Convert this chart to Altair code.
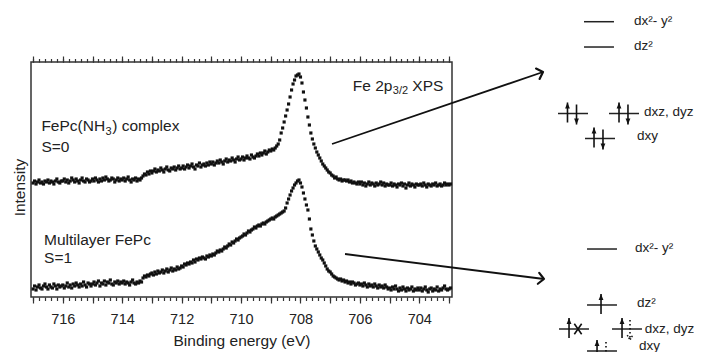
import math
import altair as alt
import pandas as pd

# ---------------- data ----------------
E_START = 717.0
E_STEP = 0.05

# FePc(NH3) complex, S=0 (upper trace), one value every 0.05 eV from 717.00 eV down
UPPER = [
    114, 116, 113, 115, 117, 114, 115, 113, 116, 115, 117, 114, 116, 115, 113, 116, 118, 115, 114, 116,
    116, 118, 115, 117, 114, 116, 119, 117, 115, 118, 116, 114, 117, 119, 116, 115, 118, 117, 115, 116,
    118, 116, 119, 117, 115, 118, 116, 119, 117, 120, 118, 116, 117, 119, 118, 115, 117, 119, 116, 118,
    117, 119, 116, 118, 120, 117, 115, 118, 117, 119, 116, 118, 117, 119, 121, 123, 122, 125, 123, 126,
    124, 126, 128, 125, 127, 126, 129, 127, 125, 128, 130, 127, 126, 129, 128, 130, 127, 129, 131, 128,
    129, 131, 128, 130, 132, 129, 131, 133, 130, 128, 132, 131, 134, 130, 132, 133, 131, 134, 132, 135,
    133, 135, 132, 134, 136, 134, 137, 135, 133, 136, 138, 135, 137, 136, 139, 137, 135, 138, 140, 137,
    138, 140, 137, 139, 141, 139, 138, 142, 140, 139, 141, 143, 141, 144, 142, 144, 146, 143, 145, 147,
    146, 148, 147, 149, 151, 153, 157, 164, 169, 175, 181, 187, 193, 200, 207, 213, 217, 221, 222, 223,
    220, 214, 205, 197, 189, 180, 172, 164, 158, 153, 149, 145, 142, 139, 136, 133, 131, 129, 127, 125,
    124, 122, 121, 119, 120, 118, 117, 118, 116, 117, 117, 116, 117, 115, 116, 114, 115, 114, 113, 115,
    113, 115, 112, 114, 111, 113, 115, 112, 114, 113, 111, 114, 112, 113, 115, 112, 114, 111, 113, 112,
    112, 114, 111, 113, 112, 110, 113, 112, 114, 111, 113, 109, 112, 114, 111, 113, 112, 110, 113, 112,
    112, 113, 111, 114, 112, 110, 113, 112, 111, 113, 112, 114, 111, 112, 113, 111, 112, 114, 112, 113,
    112, 113,
]

# Multilayer FePc, S=1 (lower trace)
LOWER = [
    8, 11, 7, 10, 12, 9, 8, 11, 13, 10, 8, 12, 10, 9, 13, 11, 8, 12, 10, 11,
    12, 9, 11, 14, 10, 12, 9, 13, 11, 14, 12, 10, 13, 11, 15, 12, 10, 14, 13, 11,
    13, 15, 12, 14, 16, 11, 14, 13, 16, 12, 15, 14, 17, 13, 12, 15, 14, 16, 13, 15,
    14, 16, 13, 15, 14, 12, 15, 17, 14, 13, 15, 14, 16, 15, 19, 21, 20, 22, 21, 23,
    24, 22, 25, 23, 26, 24, 25, 27, 24, 26, 28, 25, 27, 29, 26, 28, 27, 30, 28, 29,
    31, 30, 33, 32, 34, 33, 35, 34, 37, 35, 38, 37, 39, 38, 40, 39, 38, 41, 40, 42,
    41, 43, 42, 44, 46, 45, 47, 46, 48, 50, 49, 51, 53, 52, 55, 54, 56, 58, 57, 59,
    60, 61, 63, 62, 64, 66, 65, 67, 68, 70, 69, 71, 72, 71, 73, 74, 73, 75, 76, 77,
    78, 79, 78, 80, 81, 82, 83, 84, 85, 86, 89, 94, 98, 102, 106, 109, 112, 114, 116, 117,
    114, 110, 104, 98, 92, 87, 78, 68, 62, 56, 51, 48, 45, 42, 39, 37, 34, 31, 28, 26,
    25, 23, 21, 20, 19, 18, 17, 18, 16, 17, 15, 16, 14, 15, 13, 15, 14, 12, 13, 14,
    12, 13, 11, 14, 12, 10, 13, 11, 12, 10, 13, 11, 9, 12, 10, 11, 9, 12, 10, 8,
    9, 7, 10, 8, 11, 8, 6, 9, 7, 10, 8, 6, 9, 7, 8, 10, 6, 8, 7, 9,
    7, 9, 6, 8, 10, 7, 5, 8, 9, 6, 8, 7, 10, 6, 8, 7, 9, 11, 8, 7,
    8, 9,
]

ENERGY = [round(E_START - E_STEP * i, 2) for i in range(len(UPPER))]

X_DOMAIN = [717.07, 702.9]
Y_DOMAIN = [0, 235]
MAJOR_TICKS = list(range(703, 718))
MINOR_TICKS = [round(703 + 0.2 * i, 1) for i in range(71)]

# annotation texts inside the plot (anchor in eV / intensity units)
NOTE_FEPC = ("FePc(NH", "3", ") complex", 716.72, 165.7)
NOTE_S0 = ("S=0", 716.72, 144.7)
NOTE_XPS = ("Fe 2p", "3/2", "XPS", 706.24, 206.5)
NOTE_ML = ("Multilayer FePc", 716.63, 52.2)
NOTE_S1 = ("S=1", 716.63, 34.2)

# overlay (figure-fraction coordinates: x 0..1 left->right, y 0..1 bottom->top)
POINTER_X1 = [0.4743, 0.4929]
POINTER_Y1 = [0.6000, 0.2944]
POINTER_X2 = [0.7757, 0.7771]
POINTER_Y2 = [0.8000, 0.2250]

LEVEL_X1 = [0.8343, 0.8343, 0.7971, 0.8700, 0.8357, 0.8386, 0.8386, 0.7986, 0.8743, 0.8386]
LEVEL_X2 = [0.8771, 0.8771, 0.8400, 0.9129, 0.8786, 0.8814, 0.8814, 0.8414, 0.9171, 0.8814]
LEVEL_Y = [0.9397, 0.8694, 0.6847, 0.6847, 0.6153, 0.3083, 0.1528, 0.0861, 0.0861, 0.0250]

LABEL_TEXT = ["dx²- y²", "dz²", "dxz, dyz", "dxy", "dx²- y²", "dz²", "dxz, dyz", "dxy"]
LABEL_X = [0.9057, 0.9057, 0.9200, 0.9100, 0.9071, 0.9100, 0.9210, 0.9129]
LABEL_Y = [0.9417, 0.8722, 0.6889, 0.6222, 0.3111, 0.1583, 0.0861, 0.0389]

SPIN_X = [0.8107, 0.8236, 0.8843, 0.8971, 0.8486, 0.8614, 0.8586, 0.8129, 0.8886, 0.9000, 0.8529, 0.8657]
SPIN_LEVEL = [0.6847, 0.6847, 0.6847, 0.6847, 0.6153, 0.6153, 0.1528, 0.0861, 0.0861, 0.0861, 0.0250, 0.0250]
SPIN_DIR = ["up", "down", "up", "down", "up", "down", "up", "up", "up", "down", "up", "down"]
SPIN_KIND = ["full", "full", "full", "full", "full", "full", "full", "full", "full", "partial", "full", "partial"]

CROSS_X = [0.8257]
CROSS_Y = [0.0861]

# ---------------- layout / style ----------------
FONT = "Liberation Sans"
INK = "#111111"
TXT = "#222222"
FIG_W, FIG_H = 700, 360
VIEW_LEFT, VIEW_TOP = 31, 62
PLOT_W, PLOT_H = 421, 235
SVG_W, SVG_H = 686, 344
PAD = {"left": VIEW_LEFT - 8, "top": VIEW_TOP - 8,
       "right": SVG_W - (VIEW_LEFT - 8) - PLOT_W, "bottom": SVG_H - (VIEW_TOP - 8) - PLOT_H}
TIP_PX, TAIL_PX = 11, 9

xs = alt.Scale(domain=X_DOMAIN, nice=False, zero=False)
ys = alt.Scale(domain=Y_DOMAIN, nice=False, zero=False)
fxs = alt.Scale(domain=[0, 1], range=[-VIEW_LEFT, FIG_W - VIEW_LEFT], nice=False, zero=False)
fys = alt.Scale(domain=[0, 1], range=[FIG_H - VIEW_TOP, -VIEW_TOP], nice=False, zero=False)

axis_common = dict(domain=False, grid=False, tickColor="#333333", tickWidth=1.2,
                   labelFont=FONT, labelFontSize=14.5, labelColor=TXT,
                   titleFont=FONT, titleFontSize=15.5, titleColor=TXT, titleFontWeight="normal")

spec_df = pd.DataFrame({"E": ENERGY, "upper": UPPER, "lower": LOWER})

upper_layer = alt.Chart(spec_df).mark_square(size=10, color=INK, opacity=1).encode(
    x=alt.X("E:Q", scale=xs, axis=alt.Axis(
        values=MAJOR_TICKS, format="d",
        labelExpr="datum.value % 2 === 0 ? datum.label : ''",
        tickSize=6, labelPadding=9, title="Binding energy (eV)", titlePadding=8,
        orient="bottom", **axis_common)),
    y=alt.Y("upper:Q", scale=ys, axis=alt.Axis(
        title="Intensity", ticks=False, labels=False, titlePadding=4, titleY=125, **axis_common)),
)

lower_layer = alt.Chart(spec_df).mark_square(size=10, color=INK, opacity=1).encode(
    x=alt.X("E:Q", scale=xs, axis=alt.Axis(
        values=MINOR_TICKS, tickSize=3.5, labels=False, title=None, orient="bottom", **axis_common)),
    y=alt.Y("lower:Q", scale=ys, axis=None),
)


def note(text, e, i, size=15.5, dx=0, dy=0, x_axis=None):
    df = pd.DataFrame({"t": [text], "E": [e], "I": [i]})
    return alt.Chart(df).mark_text(
        align="left", baseline="alphabetic", font=FONT, fontSize=size, dx=dx, dy=dy, color=TXT
    ).encode(
        x=alt.X("E:Q", scale=xs, axis=x_axis),
        y=alt.Y("I:Q", scale=ys, axis=None),
        text="t:N",
    )


top_major = alt.Axis(values=MAJOR_TICKS, tickSize=6, labels=False, title=None, orient="top", **axis_common)
top_minor = alt.Axis(values=MINOR_TICKS, tickSize=3.5, labels=False, title=None, orient="top", **axis_common)

notes = [
    note(NOTE_FEPC[0], NOTE_FEPC[3], NOTE_FEPC[4]),
    note(NOTE_FEPC[1], NOTE_FEPC[3], NOTE_FEPC[4], size=11, dx=64.2, dy=3.5),
    note(NOTE_FEPC[2], NOTE_FEPC[3], NOTE_FEPC[4], dx=70.8),
    note(NOTE_S0[0], NOTE_S0[1], NOTE_S0[2], x_axis=top_major),
    note(NOTE_XPS[0], NOTE_XPS[3], NOTE_XPS[4]),
    note(NOTE_XPS[1], NOTE_XPS[3], NOTE_XPS[4], size=11, dx=40.0, dy=3.5),
    note(NOTE_XPS[2], NOTE_XPS[3], NOTE_XPS[4], dx=59.6),
    note(NOTE_ML[0], NOTE_ML[1], NOTE_ML[2]),
    note(NOTE_S1[0], NOTE_S1[1], NOTE_S1[2], x_axis=top_minor),
]

spectrum = alt.layer(upper_layer, lower_layer, *notes).resolve_axis(x="independent", y="independent")

# ---------- overlay: pointer arrows and d-level diagrams ----------
ptr_df = pd.DataFrame({"x1": POINTER_X1, "y1": POINTER_Y1, "x2": POINTER_X2, "y2": POINTER_Y2})
ptr_df["ang"] = [
    math.degrees(math.atan2(-(b2 - b1) * FIG_H, (a2 - a1) * FIG_W)) % 360
    for a1, b1, a2, b2 in zip(POINTER_X1, POINTER_Y1, POINTER_X2, POINTER_Y2)
]

pointer_rules = alt.Chart(ptr_df).mark_rule(color=INK, strokeWidth=1.8).encode(
    x=alt.X("x1:Q", scale=fxs, axis=None), y=alt.Y("y1:Q", scale=fys, axis=None),
    x2="x2:Q", y2="y2:Q")
pointer_heads = alt.Chart(ptr_df).mark_point(
    shape="M-1,-1L0,0L-1,1", filled=False, size=120, strokeWidth=2.2, color=INK,
    opacity=1, strokeCap="round", strokeJoin="round").encode(
    x=alt.X("x2:Q", scale=fxs, axis=None), y=alt.Y("y2:Q", scale=fys, axis=None),
    angle=alt.Angle("ang:Q", scale=None))

lev_df = pd.DataFrame({"x1": LEVEL_X1, "x2": LEVEL_X2, "y": LEVEL_Y})
levels = alt.Chart(lev_df).mark_rule(color=TXT, strokeWidth=1.5).encode(
    x=alt.X("x1:Q", scale=fxs, axis=None), x2="x2:Q", y=alt.Y("y:Q", scale=fys, axis=None))

lab_df = pd.DataFrame({"t": LABEL_TEXT, "x": LABEL_X, "y": LABEL_Y})
labels = alt.Chart(lab_df).mark_text(
    align="left", baseline="middle", font=FONT, fontSize=13.5, color=TXT).encode(
    x=alt.X("x:Q", scale=fxs, axis=None), y=alt.Y("y:Q", scale=fys, axis=None), text="t:N")

sign = [1 if d == "up" else -1 for d in SPIN_DIR]
spin_df = pd.DataFrame({
    "x": SPIN_X,
    "tail": [lv - s * TAIL_PX / FIG_H for lv, s in zip(SPIN_LEVEL, sign)],
    "tip": [lv + s * TIP_PX / FIG_H for lv, s in zip(SPIN_LEVEL, sign)],
    "dir": SPIN_DIR,
    "kind": SPIN_KIND,
})

spin_full = alt.Chart(spin_df).transform_filter("datum.kind === 'full'").mark_rule(
    color=INK, strokeWidth=1.6).encode(
    x=alt.X("x:Q", scale=fxs, axis=None), y=alt.Y("tail:Q", scale=fys, axis=None), y2="tip:Q")
spin_part = alt.Chart(spin_df).transform_filter("datum.kind === 'partial'").mark_rule(
    color=INK, strokeWidth=1.6, strokeDash=[1.5, 2.5]).encode(
    x=alt.X("x:Q", scale=fxs, axis=None), y=alt.Y("tail:Q", scale=fys, axis=None), y2="tip:Q")
head_up = alt.Chart(spin_df).transform_filter(
    "datum.kind === 'full' && datum.dir === 'up'").mark_point(
    shape="M0,0L-0.8,2L0.8,2Z", filled=True, size=36, color=INK, opacity=1).encode(
    x=alt.X("x:Q", scale=fxs, axis=None), y=alt.Y("tip:Q", scale=fys, axis=None))
head_down = alt.Chart(spin_df).transform_filter(
    "datum.kind === 'full' && datum.dir === 'down'").mark_point(
    shape="M0,0L-0.8,-2L0.8,-2Z", filled=True, size=36, color=INK, opacity=1).encode(
    x=alt.X("x:Q", scale=fxs, axis=None), y=alt.Y("tip:Q", scale=fys, axis=None))
head_part = alt.Chart(spin_df).transform_filter("datum.kind === 'partial'").mark_point(
    shape="M-1,-1.8L0,0L1,-1.8", filled=False, size=30, strokeWidth=1.5,
    strokeDash=[1.5, 1.5], color=INK, opacity=1).encode(
    x=alt.X("x:Q", scale=fxs, axis=None), y=alt.Y("tip:Q", scale=fys, axis=None))

cross_df = pd.DataFrame({"x": CROSS_X, "y": CROSS_Y})
cross = alt.Chart(cross_df).mark_point(
    shape="M-0.7,-1L0.7,1M0.7,-1L-0.7,1", filled=False, size=110, strokeWidth=1.6,
    color=INK, opacity=1).encode(
    x=alt.X("x:Q", scale=fxs, axis=None), y=alt.Y("y:Q", scale=fys, axis=None))

overlay = alt.layer(pointer_rules, pointer_heads, levels, labels,
                    spin_full, spin_part, head_up, head_down, head_part, cross)

chart = alt.layer(spectrum, overlay).resolve_scale(
    x="independent", y="independent"
).properties(
    width=PLOT_W, height=PLOT_H, padding=PAD, autosize=alt.AutoSizeParams(type="none"),
    background="white",
).configure_view(stroke="#333333", strokeWidth=1.5)

chart.save("out.html", embed_options={"renderer": "svg", "actions": False})
